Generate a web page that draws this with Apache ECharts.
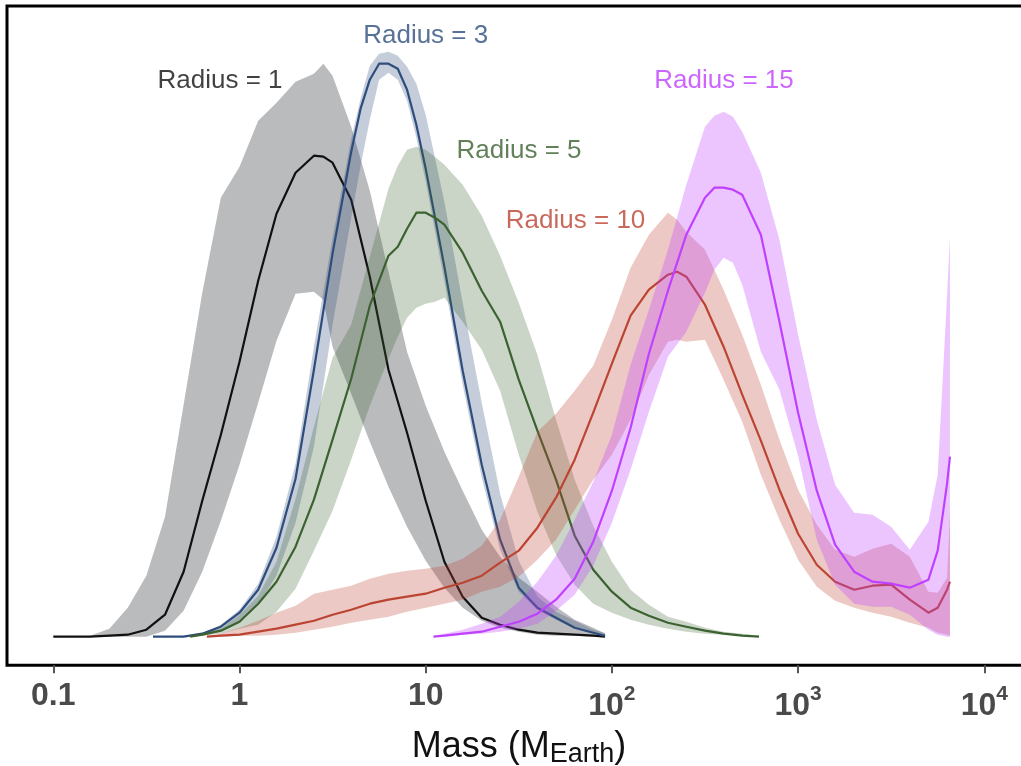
<!DOCTYPE html>
<html><head><meta charset="utf-8">
<script src="https://cdn.jsdelivr.net/npm/echarts@6/dist/echarts.min.js"></script>
<style>html,body{margin:0;padding:0;background:#fff}#c{width:1021px;height:766px}</style>
</head><body><div id="c"></div>
<script>
// ---- tick labels (mass in Earth masses) ----
const tickMasses = [0.1, 1, 10, 100, 1000, 10000];
const tickLabels = ['0.1', '1', '10', '10^2', '10^3', '10^4'];

// ---- Radius = 1 ----
const r1Mass = [0.1,0.126,0.158,0.2,0.251,0.316,0.398,0.501,0.631,0.794,1,1.26,1.58,2,2.51,2.82,3.16,3.98,5.01,6.31,7.94,10,12.6,15.8,20,25.1,31.6,39.8,50.1,63.1,79.4,91.9];
const r1Mid  = [0,0,0,0.01,0.02,0.07,0.22,0.65,1.36,2.02,2.75,3.56,4.23,4.64,4.81,4.80,4.74,4.37,3.60,2.67,2.04,1.36,0.75,0.40,0.19,0.12,0.07,0.04,0.03,0.02,0.01,0];
const r1Hi   = [0,0,0.01,0.08,0.29,0.61,1.20,2.32,3.44,4.39,4.70,5.16,5.34,5.55,5.63,5.73,5.61,5.10,4.46,3.65,2.85,2.31,1.85,1.46,1.07,0.80,0.59,0.45,0.30,0.17,0.09,0.03];
const r1Lo   = [0,0,0,0,0,0,0.06,0.26,0.65,1.16,1.72,2.34,2.96,3.43,3.45,3.37,2.90,2.43,1.95,1.50,1.10,0.76,0.49,0.29,0.16,0.09,0.05,0.02,0.01,0.01,0,0];

// ---- Radius = 3 ----
const r3Mass = [0.343,0.398,0.501,0.631,0.794,1,1.26,1.58,2,2.51,3.16,3.98,4.47,5.01,5.62,6.31,7.08,7.94,8.91,10,12.6,15.8,20,25.1,31.6,39.8,50.1,63.1,79.4,91.9];
const r3Mid  = [0,0,0,0.03,0.10,0.24,0.47,0.89,1.58,2.67,3.83,4.85,5.28,5.57,5.73,5.73,5.68,5.47,5.12,4.68,3.70,2.66,1.72,0.97,0.49,0.29,0.19,0.09,0.04,0.01];
const r3Hi   = [0,0,0.01,0.04,0.12,0.27,0.53,1.00,1.73,2.90,3.99,4.98,5.38,5.71,5.83,5.85,5.81,5.70,5.53,5.22,4.35,3.34,2.34,1.43,0.76,0.40,0.25,0.16,0.07,0.04];
const r3Lo   = [0,0,0,0.01,0.05,0.15,0.32,0.61,1.14,1.90,3.12,4.19,4.71,5.17,5.57,5.64,5.57,5.36,4.99,4.55,3.55,2.52,1.59,0.87,0.45,0.27,0.17,0.08,0.03,0.01];

// ---- Radius = 5 ----
const r5Mass = [0.543,0.631,0.794,1,1.26,1.58,2,2.51,3.16,3.98,5.01,6.31,7.08,7.94,8.91,10,11.2,12.6,15.8,20,25.1,31.6,39.8,50.1,63.1,79.4,100,126,158,200,251,316,398,501,617];
const r5Mid  = [0,0.02,0.06,0.15,0.33,0.55,0.90,1.37,1.97,2.58,3.31,3.81,3.90,4.08,4.24,4.24,4.19,4.12,3.84,3.46,3.15,2.57,2.06,1.57,1.01,0.67,0.45,0.29,0.21,0.14,0.10,0.06,0.03,0.01,0];
const r5Hi   = [0,0.04,0.08,0.22,0.41,0.75,1.38,2.10,2.79,3.12,3.80,4.48,4.71,4.87,4.90,4.87,4.80,4.72,4.52,4.21,3.81,3.34,2.82,2.17,1.57,1.11,0.75,0.47,0.32,0.20,0.15,0.09,0.05,0.03,0.01];
const r5Lo   = [0,0.01,0.03,0.08,0.12,0.25,0.48,0.86,1.26,1.77,2.31,2.78,3.00,3.19,3.29,3.33,3.35,3.39,3.15,2.87,2.46,1.82,1.25,0.82,0.52,0.33,0.24,0.17,0.12,0.08,0.05,0.03,0.02,0.01,0];

// ---- Radius = 10 ----
const r10Mass = [0.668,0.794,1,1.26,1.58,2,2.51,3.16,3.98,5.01,6.31,7.94,10,12.6,15.8,20,25.1,31.6,39.8,50.1,63.1,79.4,100,126,158,200,224,251,316,398,501,631,794,1000,1260,1580,2000,2510,3160,3980,5010,5620,6310,6540];
const r10Mid  = [0,0.01,0.02,0.05,0.08,0.12,0.16,0.22,0.27,0.33,0.37,0.40,0.43,0.49,0.54,0.61,0.74,0.86,1.09,1.39,1.77,2.24,2.73,3.21,3.47,3.62,3.65,3.60,3.32,2.90,2.42,1.96,1.47,1.03,0.72,0.55,0.47,0.51,0.52,0.37,0.24,0.29,0.47,0.55];
const r10Hi   = [0,0.03,0.09,0.16,0.24,0.31,0.43,0.47,0.51,0.58,0.63,0.66,0.68,0.71,0.78,0.91,1.17,1.60,2.05,2.23,2.46,2.71,3.17,3.69,4.02,4.24,4.17,4.05,3.87,3.47,3.02,2.52,1.97,1.47,1.12,0.87,0.80,0.88,0.93,0.80,0.45,0.44,0.59,1.24];
const r10Lo   = [0,0,0.01,0.01,0.02,0.04,0.07,0.10,0.14,0.17,0.20,0.25,0.29,0.33,0.37,0.45,0.50,0.60,0.77,0.97,1.27,1.57,1.82,2.17,2.62,2.95,2.97,2.95,2.97,2.57,2.15,1.62,1.17,0.77,0.50,0.36,0.29,0.24,0.20,0.14,0.09,0.04,0.02,0.01];

// ---- Radius = 15 ----
const r15Mass = [11,12.6,15.8,20,25.1,31.6,39.8,50.1,63.1,79.4,100,126,158,200,251,316,355,398,447,501,631,794,1000,1260,1580,2000,2510,3160,3980,5010,5620,6310,6540];
const r15Mid  = [0,0.01,0.03,0.05,0.10,0.15,0.23,0.37,0.58,0.95,1.46,2.09,2.83,3.46,4.02,4.39,4.49,4.49,4.47,4.42,4.02,3.15,2.24,1.46,0.92,0.65,0.55,0.53,0.49,0.57,0.86,1.53,1.80];
const r15Hi   = [0,0.03,0.07,0.13,0.20,0.35,0.55,0.81,1.17,1.55,2.02,2.72,3.27,3.87,4.52,5.10,5.21,5.25,5.20,5.05,4.64,3.97,3.02,2.17,1.52,1.24,1.22,1.10,0.87,1.15,1.62,3.41,4.00];
const r15Lo   = [0,0,0.02,0.03,0.05,0.08,0.13,0.26,0.42,0.71,1.14,1.67,2.25,2.80,3.05,3.44,3.67,3.79,3.74,3.52,2.85,2.47,1.81,0.97,0.52,0.33,0.30,0.30,0.22,0.07,0.02,0,0];

// ---- in-plot labels (anchor in data coordinates) ----
const labelTexts = ['Radius = 1', 'Radius = 3', 'Radius = 5', 'Radius = 10', 'Radius = 15'];
const labelMass  = [0.786, 10.0, 31.7, 63.8, 400];
const labelValue = [5.56, 6.01, 4.86, 4.16, 5.56];

const FONT = '"Liberation Sans", Arial, Helvetica, sans-serif';
const lg = m => Math.round(Math.log10(m) * 1e6) / 1e6;

const groups = [
  {mass: r1Mass,  mid: r1Mid,  lo: r1Lo,  hi: r1Hi,  line: '#111111', band: 'rgba(110,112,118,0.48)'},
  {mass: r3Mass,  mid: r3Mid,  lo: r3Lo,  hi: r3Hi,  line: '#2e4d7d', band: 'rgba(46,77,125,0.28)'},
  {mass: r5Mass,  mid: r5Mid,  lo: r5Lo,  hi: r5Hi,  line: '#3b6230', band: 'rgba(59,98,48,0.27)'},
  {mass: r10Mass, mid: r10Mid, lo: r10Lo, hi: r10Hi, line: '#bb4433', band: 'rgba(190,70,50,0.29)'},
  {mass: r15Mass, mid: r15Mid, lo: r15Lo, hi: r15Hi, line: '#bf40ff', band: 'rgba(191,64,255,0.3)'}
];

const series = [];
groups.forEach((g, k) => {
  const pts = g.mass.map((m, i) => [lg(m), g.lo[i], g.hi[i]]);
  series.push({
    type: 'custom', silent: true, z: 2 + 2 * k,
    coordinateSystem: 'cartesian2d',
    data: pts,
    encode: {x: 0, y: [1, 2]},
    renderItem: function (params, api) {
      if (params.dataIndex !== 0) return null;
      const up = pts.map(p => api.coord([p[0], p[2]]));
      const dn = pts.map(p => api.coord([p[0], p[1]])).reverse();
      return {type: 'polygon', shape: {points: up.concat(dn)}, style: {fill: g.band}};
    }
  });
  series.push({
    type: 'line', silent: true, z: 3 + 2 * k,
    data: g.mass.map((m, i) => [lg(m), g.mid[i]]),
    symbol: 'none', showSymbol: false,
    lineStyle: {color: g.line, width: 2.2, join: 'round'},
    itemStyle: {color: g.line}
  });
});

series.push({
  type: 'scatter', silent: true, z: 20,
  symbolSize: 1, itemStyle: {color: 'rgba(0,0,0,0)'},
  data: labelTexts.map((t, i) => ({
    value: [lg(labelMass[i]), labelValue[i]],
    label: {color: groups[i].line}
  })),
  label: {
    show: true, position: 'inside',
    formatter: p => labelTexts[p.dataIndex],
    fontSize: 26, fontFamily: FONT
  }
});

const tickExp = tickMasses.map(lg);
const TICKCOL = '#4a4a4a';

const option = {
  animation: false,
  backgroundColor: '#fff',
  grid: {left: 7, right: -2, top: 6, bottom: 100.7, show: true, borderColor: '#000', borderWidth: 3, outerBoundsMode: 'none'},
  xAxis: {
    type: 'value', min: -1.24866, max: 4.20784,
    axisLine: {show: false, onZero: false},
    splitLine: {show: false},
    axisTick: {show: true, customValues: tickExp, length: 8, lineStyle: {color: '#555', width: 2}},
    axisLabel: {
      customValues: tickExp, margin: 15, verticalAlign: 'top',
      formatter: v => {
        const i = tickExp.indexOf(Math.round(v));
        const t = tickLabels[i] || '';
        if (t.indexOf('^') >= 0) { const p = t.split('^'); return '{b|' + p[0] + '}{s|' + p[1] + '}'; }
        return '{n|' + t + '}';
      },
      rich: {
        n: {fontSize: 32, fontWeight: 'bold', color: TICKCOL, fontFamily: FONT, lineHeight: 42, height: 32, verticalAlign: 'top'},
        b: {fontSize: 32, fontWeight: 'bold', color: TICKCOL, fontFamily: FONT, lineHeight: 42, height: 32, verticalAlign: 'bottom'},
        s: {fontSize: 21, fontWeight: 'bold', color: TICKCOL, fontFamily: FONT, lineHeight: 42, height: 28, verticalAlign: 'top'}
      }
    },
    name: 'Mass (M{sub|Earth})',
    nameLocation: 'middle', nameGap: 63,
    nameTextStyle: {
      fontSize: 36, color: '#111', fontFamily: FONT, lineHeight: 37, padding: [0, 0, 0, 8],
      rich: {sub: {fontSize: 27, color: '#111', fontFamily: FONT, lineHeight: 20, height: 21, verticalAlign: 'bottom'}}
    }
  },
  yAxis: {type: 'value', min: -0.286, max: 6.307, show: false, splitLine: {show: false}},
  series: series
};

const chart = echarts.init(document.getElementById('c'), null, {renderer: 'canvas'});
chart.setOption(option);
</script>
</body></html>
